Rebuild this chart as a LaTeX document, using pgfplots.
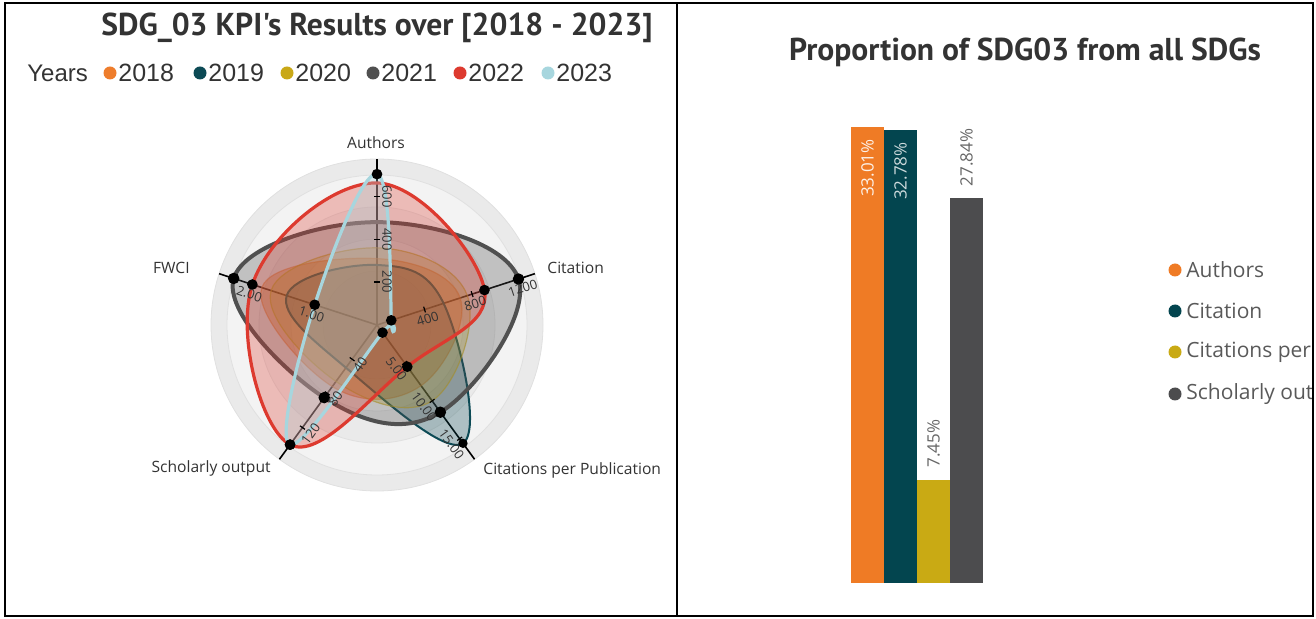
\documentclass[border=0pt]{standalone}
\usepackage{fontspec}
\setmainfont{Liberation Sans}
\newfontfamily\titlefont{PT Sans}
\newfontfamily\uifont{Open Sans}
\usepackage{graphicx}
\usepackage{pgfplots}
\usepackage{pgfplotstable}
\pgfplotsset{compat=1.18}

\definecolor{c18}{HTML}{EE7D2C}
\definecolor{c19}{HTML}{0C4A55}
\definecolor{c20}{HTML}{C9A817}
\definecolor{c21}{HTML}{505050}
\definecolor{c22}{HTML}{DD3A2F}
\definecolor{c23}{HTML}{A7D6DE}
\definecolor{b1}{HTML}{EF7B25}
\definecolor{b2}{HTML}{03454F}
\definecolor{b3}{HTML}{C9AA14}
\definecolor{b4}{HTML}{4C4C4E}
\definecolor{ink}{HTML}{333333}
\definecolor{ringA}{HTML}{EAEAEA}
\definecolor{ringB}{HTML}{F3F3F3}

% one row per radar axis: angle, full-scale value, then the value of each year
\pgfplotstableread{
a    s     y18   y19   y20   y21   y22   y23
90   700   310   280   360   480   663   704
18   1200  700   560   760   1190  904   120
-54  16    8.0   15.6  10.0  11.5  5.5   1.0
234  142   72    50    66    85    140   140
162  2.29  1.85  1.45  1.7   2.3   2.0   1.0
}\kpi

\pgfplotsset{
  radar/.style={smooth cycle, tension=0.68, fill opacity=0.3, draw opacity=1,
    mark=*, mark size=1.8pt, mark options={fill=black, draw=black, fill opacity=1}},
  bar/.style={ybar, bar width=16.5pt, bar shift=0pt, draw=none},
  /pgfplots/table/yr/.style={x expr={\thisrow{#1}/\thisrow{s}*cos(\thisrow{a})},
                             y expr={\thisrow{#1}/\thisrow{s}*sin(\thisrow{a})}},
}

\begin{document}
\begin{tikzpicture}[x=0.5pt,y=-0.5pt]
\useasboundingbox (0,0) rectangle (1316,619);

% ---- left panel: titles and year legend
\node[font=\titlefont\bfseries\fontsize{15.8}{17}\selectfont, text=ink] at (377,28)
  {SDG\_03 KPI's Results over [2018 - 2023]};
\node[anchor=west, inner sep=0pt, font=\fontsize{12}{14}\selectfont, text=ink] at (27,73) {Years};
\foreach \x/\c/\t in {110/c18/2018, 200/c19/2019, 287/c20/2020, 373/c21/2021, 460/c22/2022, 548/c23/2023} {
  \fill[\c] (\x,73) circle[radius=6.5];
  \node[anchor=west, inner sep=0pt, font=\fontsize{12.5}{14}\selectfont, text=ink] at (\x+8,73) {\t};
}

% ---- radar grid rings and spokes
\begin{scope}[shift={(377,325)}, x=0.5pt, y=0.5pt]
  \fill[ringA] (0,0) circle[radius=166];
  \fill[ringB] (0,0) circle[radius=150];
  \fill[ringA] (0,0) circle[radius=118];
  \fill[ringB] (0,0) circle[radius=86];
  \fill[ringA] (0,0) circle[radius=54];
  \foreach \r in {54,86,118,150,166} \draw[black!12, line width=0.4pt] (0,0) circle[radius=\r];
  \foreach \a in {90,18,-54,234,162} \draw[black, line width=0.8pt] (0,0) -- (\a:166);
\end{scope}

\begin{axis}[at={(188.5pt,-162.5pt)}, anchor=center, scale only axis,
  width=180pt, height=180pt, xmin=-1.2, xmax=1.2, ymin=-1.2, ymax=1.2,
  hide axis, clip=false]
  \addplot[radar, draw=c18, fill=c18, fill opacity=0.42, line width=0.6pt, draw opacity=0.5, no markers] table[yr=y18]{\kpi};
  \addplot[radar, draw=c19, fill=c19, line width=1pt, mark indices={3}] table[yr=y19]{\kpi};
  \addplot[radar, draw=c20, fill=c20, line width=0.6pt, draw opacity=0.6, no markers] table[yr=y20]{\kpi};
  \addplot[radar, draw=c21, fill=c21, line width=2pt, mark indices={2,3,4,5}] table[yr=y21]{\kpi};
  \addplot[radar, draw=c22, fill=c22, line width=1.6pt, mark indices={2,3,4,5}] table[yr=y22]{\kpi};
  \addplot[radar, draw=c23, fill=c23, line width=1.6pt] table[yr=y23]{\kpi};
\end{axis}

% ---- spoke ticks, tick labels and axis names
\begin{scope}[shift={(377,325)}, x=0.5pt, y=0.5pt]
  \foreach \a/\r/\t/\s/\o in {
      90/42.9/200/0/-90, 90/85.7/400/0/-90, 90/128.6/600/0/-90,
      18/50/400/-72/18, 18/100/800/-72/18, 18/150/1200/-72/18,
      -54/46.9/5.00/216/-54, -54/93.8/10.00/216/-54, -54/140.6/15.00/216/-54,
      234/42.3/40/324/54, 234/84.5/80/324/54, 234/126.8/120/324/54,
      162/65.5/1.00/252/-18, 162/131/2.00/252/-18} {
    \draw[black, line width=0.6pt] (\a:\r) ++(\a+90:3) -- ++(\a-90:6);
    \path (\a:\r) ++(\s:10) node[rotate=\o, inner sep=0pt, text=ink,
      font=\uifont\fontsize{6.5}{7}\selectfont] {\t};
  }
\end{scope}
\begin{scope}[every node/.style={font=\uifont\fontsize{7.8}{9}\selectfont, text=ink, inner sep=0pt}]
  \node at (376,143) {Authors};
  \node[anchor=west] at (547,268) {Citation};
  \node[anchor=west] at (483,470) {Citations per Publication};
  \node[anchor=east] at (271,468) {Scholarly output};
  \node[anchor=east] at (190,268) {FWCI};
\end{scope}

% ---- right panel
\node[font=\titlefont\bfseries\fontsize{15.8}{17}\selectfont, text=ink] at (1025,52)
  {Proportion of SDG03 from all SDGs};

\begin{axis}[at={(425.5pt,-291.5pt)}, anchor=south west, scale only axis,
  width=66pt, height=228pt, xmin=-0.5, xmax=3.5, ymin=0, ymax=33.01,
  hide axis, clip=false, point meta=explicit symbolic, nodes near coords,
  every node near coord/.append style={font=\uifont\fontsize{8.5}{10}\selectfont, rotate=90, inner xsep=6pt}]
  \addplot[bar, fill=b1, every node near coord/.append style={anchor=east, text=white!90!b1}]
    coordinates {(0,33.01) [33.01\%]};
  \addplot[bar, fill=b2, every node near coord/.append style={anchor=east, text=white!80!b2}]
    coordinates {(1,32.78) [32.78\%]};
  \addplot[bar, fill=b3, every node near coord/.append style={anchor=west, text=black!60}]
    coordinates {(2,7.45) [7.45\%]};
  \addplot[bar, fill=b4, every node near coord/.append style={anchor=west, text=black!60}]
    coordinates {(3,27.84) [27.84\%]};
\end{axis}

\begin{scope}
  \clip (679,0) rectangle (1311,619);
  \foreach \y/\c/\t in {270/b1/Authors, 311/b2/Citation, 352/b3/Citations per Publication, 394/b4/Scholarly output} {
    \fill[\c] (1175,\y) circle[radius=6.5];
    \node[anchor=west, inner sep=0pt, text=black!65, font=\uifont\fontsize{10.5}{12}\selectfont] at (1186,\y) {\t};
  }
\end{scope}

% ---- frame
\draw[black, line width=1.1pt] (5,3) rectangle (1313,616);
\draw[black, line width=1.1pt] (677,3) -- (677,616);
\end{tikzpicture}
\end{document}
